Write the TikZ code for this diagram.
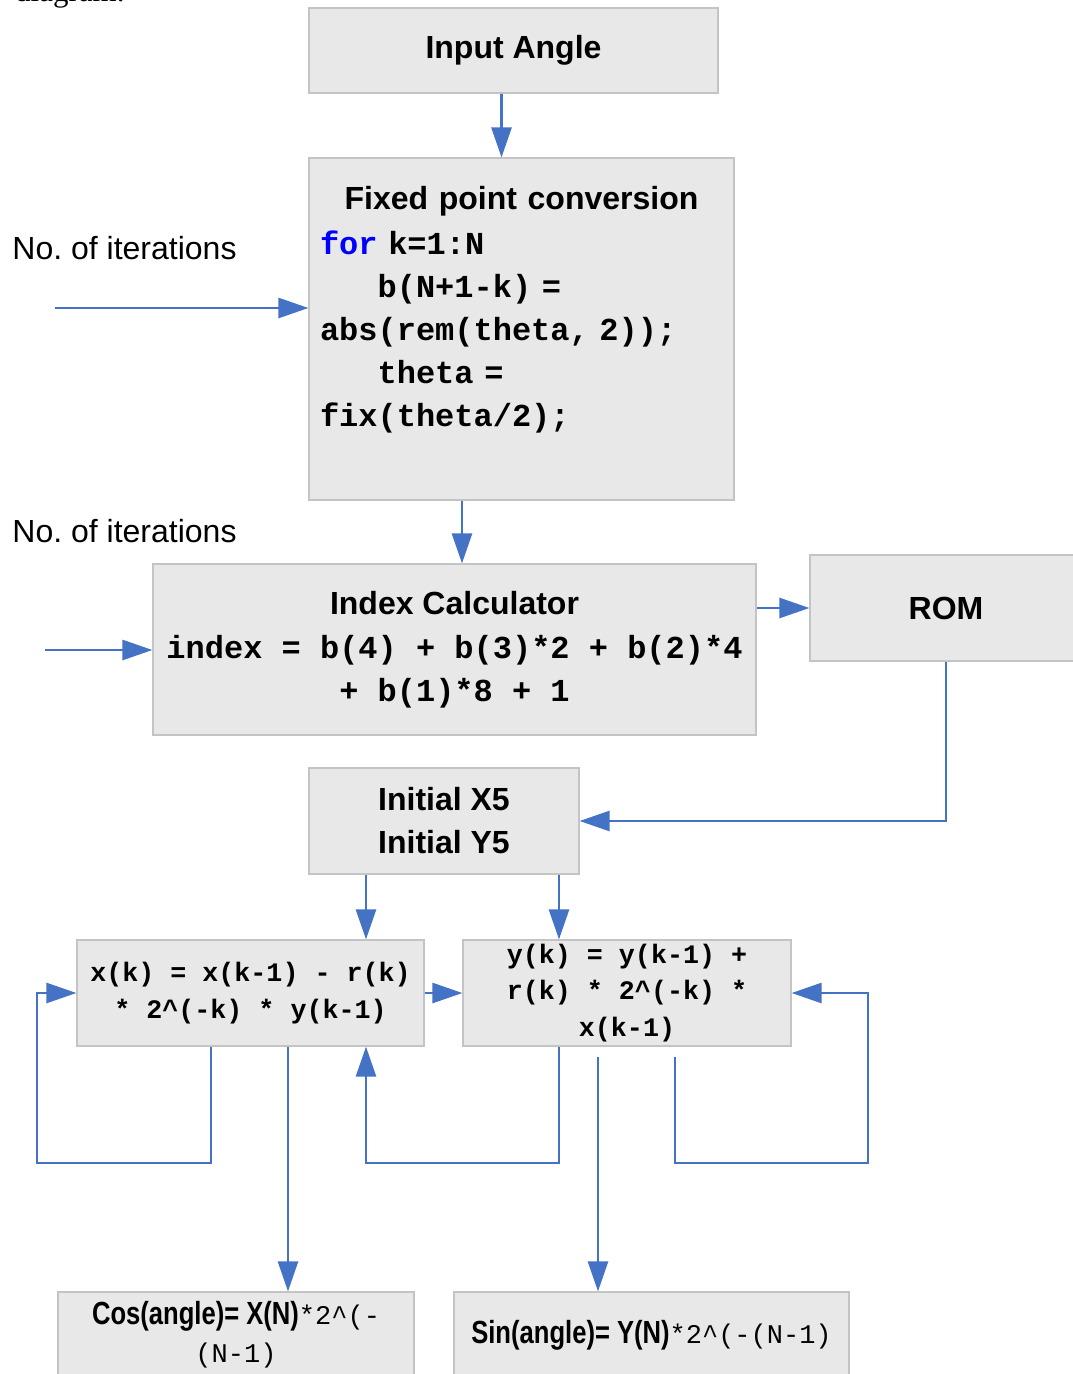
\documentclass[tikz,border=0pt]{standalone}
\usepackage{fontspec}
\setmainfont{Liberation Sans}
\setsansfont{Liberation Sans}
\setmonofont{Liberation Mono}
\newfontfamily\narrowfont{Liberation Sans}[FakeStretch=0.8]
\newfontfamily\pagefont{Liberation Serif}
\usepackage{xcolor}
\usepackage{tikz}
\usetikzlibrary{arrows.meta}

\definecolor{flowblue}{HTML}{4472C4}
\definecolor{boxgray}{HTML}{E8E8E8}
\definecolor{edgegray}{HTML}{C4C4C4}
\definecolor{keyblue}{HTML}{0000FF}

\begin{document}
\begin{tikzpicture}[
    x=1pt, y=-1pt,
    >={Triangle[length=30pt,width=20pt]},
    base/.style={
        rectangle,
        draw=edgegray,
        fill=boxgray,
        line width=1.2pt,
        align=center,
        inner sep=0pt
    },
    title/.style={
        base,
        font=\fontsize{32}{43}\selectfont\bfseries
    },
    codebox/.style={
        base,
        font=\fontsize{32}{43}\selectfont\ttfamily\bfseries
    },
    smallcode/.style={
        base,
        font=\fontsize{26.7}{36.5}\selectfont\ttfamily\bfseries
    },
    result/.style={
        base,
        font=\fontsize{27}{38}\selectfont\ttfamily
    },
    note/.style={
        font=\fontsize{32}{40}\selectfont,
        inner sep=0pt
    },
    flow/.style={
        ->,
        line width=2.7pt,
        draw=flowblue
    }
]

\useasboundingbox (0,0) rectangle (1073,1374);

\node[anchor=base west, inner sep=0pt, font=\pagefont\fontsize{31}{31}\selectfont] (caption) at (15,1) {diagram.};

% --- Angle conversion --------------------------------------------------------

\node[title, minimum width=409pt, minimum height=85pt] (input) at (513.5,50.5) {Input Angle};

\node[codebox, text width=403pt, align=left, inner xsep=11pt, minimum height=342pt] (fixed) at (521.5,329) {\makebox[403pt][c]{\sffamily Fixed point conversion}\\[2pt]
{\color{keyblue}for} k=1:N\\
\phantom{xxx}b(N+1-k) =\\
abs(rem(theta, 2));\\
\phantom{xxx}theta =\\
fix(theta/2);\\[-10pt]
\strut};

\node[note] (iterA) at (124.5,248) {No.\ of iterations};
\coordinate (iterAin) at (55,308);

% --- Table lookup ------------------------------------------------------------

\node[note] (iterB) at (124.5,531) {No.\ of iterations};
\coordinate (iterBin) at (45,650);

\node[codebox, minimum width=603pt, minimum height=171pt] (index) at (454.5,649.5) {{\sffamily Index Calculator}\\[1pt]
index = b(4) + b(3)*2 + b(2)*4\\
+ b(1)*8 + 1};

\node[title, minimum width=272pt, minimum height=106pt] (rom) at (946,608) {ROM};

\node[title, minimum width=270pt, minimum height=106pt] (init) at (444,821) {Initial X5\\ Initial Y5};

% --- Rotation stage ----------------------------------------------------------

\node[smallcode, minimum width=347pt, minimum height=106pt] (xcalc) at (250.5,993) {x(k) = x(k-1) - r(k)\\
* 2\textasciicircum(-k) * y(k-1)};

\node[smallcode, minimum width=328pt, minimum height=106pt] (ycalc) at (627,993) {y(k) = y(k-1) +\\
r(k) * 2\textasciicircum(-k) *\\
x(k-1)};

\node[result, minimum width=356pt, minimum height=86pt] (cosout) at (236,1335) {{\narrowfont\bfseries\fontsize{32}{38}\selectfont Cos(angle)= X(N)}*2\textasciicircum(-\\
(N-1)};

\node[result, minimum width=395pt, minimum height=86pt] (sinout) at (651.5,1335) {{\narrowfont\bfseries\fontsize{32}{38}\selectfont Sin(angle)= Y(N)}*2\textasciicircum(-(N-1)};

% --- Arrows ------------------------------------------------------------------

\draw[flow] ([xshift=-12pt]input.south) -- ([xshift=-20pt]fixed.north);
\draw[flow] (iterAin) -- (iterAin -| fixed.west);
\draw[flow] ([xshift=-59.5pt]fixed.south) -- ([xshift=7.5pt]index.north);
\draw[flow] (iterBin) -- (iterBin -| index.west);
\draw[flow] ([yshift=41.5pt]index.east) -- (rom.west);
\draw[flow] (rom.south) |- (init.east);

\coordinate (initL) at ([xshift=-78pt]init.south);
\coordinate (initR) at ([xshift=115pt]init.south);
\draw[flow] (initL) -- (initL |- xcalc.north);
\draw[flow] (initR) -- (initR |- ycalc.north);
\draw[flow] (xcalc) -- (ycalc);

% feedback loops
\coordinate (loopbase) at (0,1163);
\coordinate (xfb) at ([xshift=-39.5pt]xcalc.south);
\coordinate (xleft) at (37,1163);
\draw[flow] (xfb) |- (xleft) |- (xcalc.west);

\coordinate (yfb) at ([xshift=-68pt]ycalc.south);
\coordinate (xup) at ([xshift=115.5pt]xcalc.south);
\draw[flow] (yfb) -- (yfb |- loopbase) -| (xup);

\coordinate (ysrc) at ([shift={(48pt,-10pt)}]ycalc.south);
\coordinate (yright) at (868,1163);
\draw[flow] (ysrc) |- (yright) |- (ycalc.east);

% outputs
\coordinate (xout) at ([xshift=37.5pt]xcalc.south);
\draw[flow] (xout) -- (xout |- cosout.north);
\coordinate (yout) at ([shift={(-29pt,-10pt)}]ycalc.south);
\draw[flow] (yout) -- (yout |- sinout.north);

\end{tikzpicture}
\end{document}
